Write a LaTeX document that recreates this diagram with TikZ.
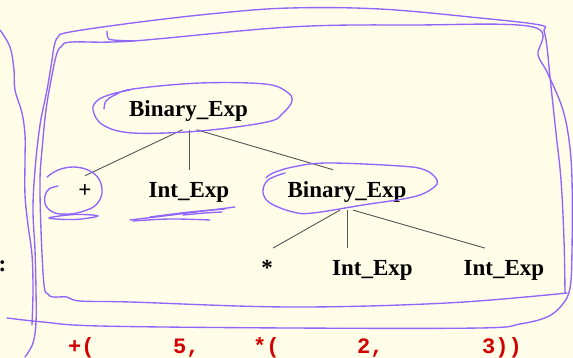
\documentclass[tikz,border=0pt]{standalone}
\usepackage{fontspec}
\setmainfont{Liberation Serif}
\newfontfamily\codefont{Liberation Mono}
\usepackage{tikz}
\usetikzlibrary{positioning}
\definecolor{paper}{RGB}{255,253,232}
\definecolor{inkviolet}{RGB}{145,100,250}
\definecolor{edgegray}{RGB}{85,85,85}
\definecolor{codered}{RGB}{210,0,0}
\tikzstyle{term} = [font=\bfseries\fontsize{23}{23}\selectfont, text height=15pt, text depth=0pt, inner xsep=0pt, inner ysep=12.5pt]
\tikzstyle{op} = [term, text height=9pt]
\tikzstyle{edge} = [draw, color=edgegray, line width=0.9pt]
\tikzstyle{ink} = [draw=inkviolet, line width=1.35pt, line cap=round, line join=round]
\tikzstyle{code} = [font=\codefont\bfseries\fontsize{22}{22}\selectfont, text=codered, inner sep=0pt, anchor=base west]

\begin{document}
\begin{tikzpicture}[x=1pt, y=-1pt]
    \fill [paper] (0,0) rectangle (573,358);
    \useasboundingbox (0,0) rectangle (573,358);

    % the tree
    \node [term, anchor=base] (root) at (188.5,117) {Binary\_Exp};
    \node [op, below=46pt of root, xshift=-103.5pt] (plus) {+};
    \node [term, below=40pt of root, xshift=0.5pt] (int1) {Int\_Exp};
    \node [term, below=40pt of root, xshift=158.5pt] (bin2) {Binary\_Exp};
    \node [term, below=38pt of bin2, xshift=-80pt] (star) {*};
    \node [term, below=38pt of bin2, xshift=25.5pt] (int2) {Int\_Exp};
    \node [term, below=38pt of bin2, xshift=157pt] (int3) {Int\_Exp};
    \node [term, anchor=base] (colon) at (2.5,271) {:};

    \path [edge] ([xshift=-6pt]root.south) -- (plus.north);
    \path [edge] (int1.north |- root.south) -- (int1.north);
    \path [edge] ([xshift=8pt]root.south) -- ([xshift=-14pt]bin2.north);
    \path [edge] ([xshift=-7pt]bin2.south) -- ([xshift=6pt]star.north);
    \path [edge] (bin2.south) -- (bin2.south |- int2.north);
    \path [edge] ([xshift=6pt]bin2.south) -- ([xshift=-19pt]int3.north);

    % the source text
    \node [code] (c1) at (68,353) {+(};
    \node [code] (c2) at (173,353) {5,};
    \node [code] (c3) at (253,353) {*(};
    \node [code] (c4) at (357,353) {2,};
    \node [code] (c5) at (482,353) {3))};

    % pen marks
    \draw [ink] plot [smooth, tension=0.6] coordinates {(0,30) (10,47) (14,70) (15,90) (22,113) (25,135) (25,160) (25,195) (28,225) (32,255) (33,290) (32,325)};
    \draw [ink] plot [smooth, tension=0.6] coordinates {(25,357) (33,343) (36,322) (36,290) (35,250) (33,210) (35,170) (40,125) (47,90) (52,60) (54,47) (58,37) (70,32) (140,22) (220,13) (290,8) (380,9) (480,18) (540,25) (544,31) (547,47) (550,77) (556,133) (561,180) (564,240) (565,293)};
    \draw [ink] plot [smooth, tension=0.6] coordinates {(7,318) (43,322) (100,326) (290,328) (480,328) (520,324) (547,317) (562,305) (570,288) (572,250) (572,180) (569,140) (562,107) (547,72) (538,55) (533,27) (413,25) (290,27) (133,41) (72,42) (62,46) (57,53) (52,75) (46,110) (42,150) (40,180) (41,230) (44,285) (48,294) (53,297) (67,297) (80,301) (130,302) (290,307) (447,303) (567,293)};
    \draw [ink] plot [smooth, tension=0.6] coordinates {(107,31) (108,38) (113,40) (134,41)};
    \draw [ink] plot [smooth, tension=0.6] coordinates {(104,109) (106,101) (115,95) (133,89) (200,83) (265,84) (287,92) (292,101) (283,113) (267,122) (200,131) (133,133) (103,125) (93,110) (98,100) (112,94) (130,90)};
    \draw [ink] plot [smooth, tension=0.6] coordinates {(47,177) (58,170) (73,167) (88,170) (99,179) (102,193) (96,205) (84,211) (70,214) (55,213) (46,206) (45,196) (49,189) (58,186)};
    \draw [ink] plot [smooth cycle, tension=0.6] coordinates {(49,218) (75,214.5) (98,216) (75,219.5)};
    \draw [ink] plot [smooth, tension=0.6] coordinates {(130,220) (180,214) (235,207)};
    \draw [ink] plot [smooth, tension=0.6] coordinates {(150,217) (190,212) (225,209)};
    \draw [ink] plot [smooth, tension=0.6] coordinates {(133,221) (170,219) (210,220)};
    \draw [ink] plot [smooth, tension=0.6] coordinates {(183,215) (205,213) (222,212)};
    \draw [ink] plot [smooth, tension=0.6] coordinates {(285,173) (268,180) (263,192) (270,203) (293,212) (313,213) (363,205) (413,197) (433,188) (437,180) (425,170) (400,166) (327,163) (293,167) (273,173) (266,178)};
\end{tikzpicture}
\end{document}
